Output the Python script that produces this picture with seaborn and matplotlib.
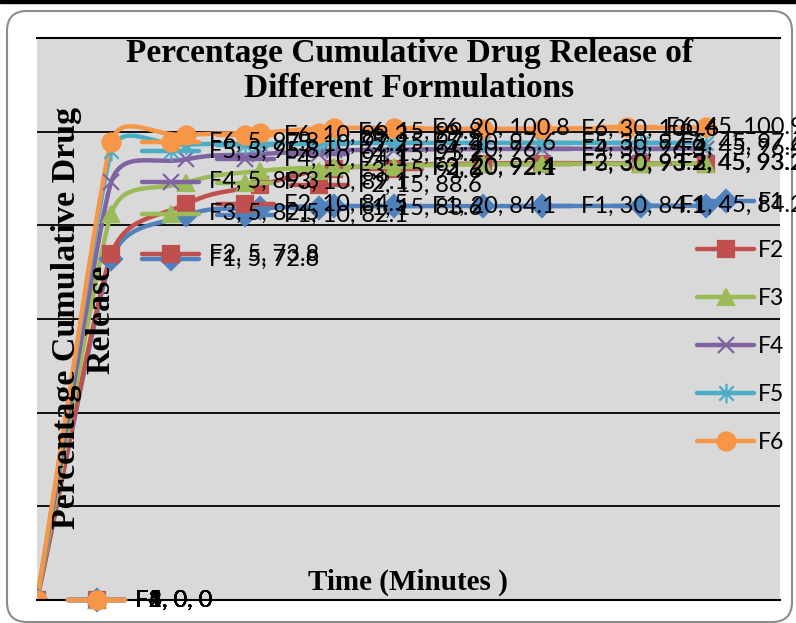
import numpy as np
import pandas as pd
import seaborn as sns
import matplotlib.pyplot as plt
from matplotlib.lines import Line2D
from matplotlib.patches import FancyBboxPatch, Rectangle
from matplotlib.path import Path
from matplotlib.transforms import IdentityTransform

# Release data (minutes vs % cumulative drug release)
time_min = [0, 5, 10, 15, 20, 30, 45]
formulations = ["F1", "F2", "F3", "F4", "F5", "F6"]
f1 = [0, 72.8, 82.1, 83.6, 84.1, 84.1, 84.2]
f2 = [0, 73.8, 84.5, 88.6, 92.1, 93.2, 93.2]
f3 = [0, 82.5, 89.1, 91.6, 92.4, 93.0, 93.2]
f4 = [0, 89.3, 94.1, 95.2, 96.0, 96.3, 96.4]
f5 = [0, 95.8, 97.2, 97.4, 97.6, 97.6, 97.6]
f6 = [0, 97.8, 99.3, 99.8, 100.8, 100.6, 100.9]
series = [f1, f2, f3, f4, f5, f6]

colors = ["#4F81BD", "#C0504D", "#9BBB59", "#8064A2", "#4BACC6", "#F79646"]
asterisk = Path([(-1, -1), (1, 1), (-1, 1), (1, -1), (0, -1.35), (0, 1.35)],
                [Path.MOVETO, Path.LINETO] * 3)
markers = ["D", "s", "^", "x", asterisk, "o"]
msizes = [11, 12, 12, 11, 14, 13]

sns.set_style("white")
plt.rcParams["font.family"] = ["Lato", "DejaVu Sans"]
plt.rcParams["text.color"] = "black"

W, H = 796, 623
fig = plt.figure(figsize=(W / 100, H / 100), dpi=100)
ax = fig.add_axes([37 / W, (H - 600) / H, (780 - 37) / W, (600 - 38) / H])
ax.set_facecolor("#D9D9D9")
ax.set_xlim(0, 50)
ax.set_ylim(0, 120)
ax.set_yticks(range(20, 101, 20))
ax.set_xticks([])
ax.yaxis.grid(True, color="black", lw=1.3)
ax.tick_params(length=0, labelleft=False, labelbottom=False)
ax.set_axisbelow(True)
for side in ["left", "right"]:
    ax.spines[side].set_visible(False)
for side in ["top", "bottom"]:
    ax.spines[side].set_color("black")
    ax.spines[side].set_linewidth(1.5)


# Excel-like smoothed curve, computed in pixel space
def smooth(xs, ys, n=40, k=0.45):
    pts = ax.transData.transform(np.column_stack([xs, ys]))
    m = len(pts)
    out = [pts[0]]
    for i in range(m - 1):
        p1, p2 = pts[i], pts[i + 1]
        p0 = pts[i - 1] if i > 0 else p1
        p3 = pts[i + 2] if i + 2 < m else p2
        d12 = np.hypot(*(p2 - p1))
        h1 = min(d12, np.hypot(*(p1 - p0))) * k if i > 0 else d12 / 3
        h2 = min(d12, np.hypot(*(p3 - p2))) * k if i + 2 < m else d12 / 3
        t1 = p2 - p0
        t2 = p3 - p1
        c1 = p1 + t1 / np.hypot(*t1) * h1
        c2 = p2 - t2 / np.hypot(*t2) * h2
        t = np.linspace(0, 1, n)[1:, None]
        seg = (1 - t) ** 3 * p1 + 3 * (1 - t) ** 2 * t * c1 + 3 * (1 - t) * t ** 2 * c2 + t ** 3 * p2
        out.extend(seg)
    return ax.transData.inverted().transform(np.array(out))


frames = []
for name, vals in zip(formulations, series):
    curve = smooth(time_min, vals)
    frames.append(pd.DataFrame({"x": curve[:, 0], "y": curve[:, 1], "Formulation": name}))
smooth_df = pd.concat(frames, ignore_index=True)

sns.lineplot(data=smooth_df, x="x", y="y", hue="Formulation", palette=colors,
             sort=False, estimator=None, linewidth=3.2, legend=False, ax=ax)
for vals, c, mk, ms in zip(series, colors, markers, msizes):
    ax.plot(time_min, vals, linestyle="none", marker=mk, markersize=ms, color=c,
            markeredgecolor=c, markeredgewidth=1.6)
ax.set_xlabel("")
ax.set_ylabel("")

# Legend
handles = [Line2D([], [], color=c, lw=3.2, marker=mk, markersize=ms, markeredgewidth=1.6)
           for c, mk, ms in zip(colors, markers, msizes)]
ax.legend(handles, formulations, loc="upper left", bbox_to_anchor=(697 / W, 1 - 192 / H),
          bbox_transform=fig.transFigure, frameon=False, fontsize=16.5, handlelength=2.5,
          handletextpad=0.15, labelspacing=1.18, borderpad=0, borderaxespad=0)

# Data labels with legend keys
ident = IdentityTransform()
renderer = fig.canvas.get_renderer()
lab_size = 17
for name, vals, c, mk, ms in zip(formulations, series, colors, markers, msizes):
    for t, v in zip(time_min, vals):
        px, py = ax.transData.transform((t, v))
        label = f"{name}, {t}, {v:g}"
        if t == time_min[-1]:
            txt = fig.text(px + 98, py, label, ha="right", va="center", fontsize=lab_size,
                           transform=ident, zorder=6)
            x_text = px + 98 - txt.get_window_extent(renderer).width
        else:
            x_text = px + 98
            fig.text(x_text, py, label, ha="left", va="center", fontsize=lab_size,
                     transform=ident, zorder=6)
        kl, kr = x_text - 67, x_text - 10
        fig.add_artist(Line2D([kl, kr], [py, py], color=c, lw=3.2, transform=ident, zorder=5))
        fig.add_artist(Line2D([(kl + kr) / 2], [py], color=c, marker=mk, markersize=ms,
                              markeredgewidth=1.6, transform=ident, zorder=5))

# Titles
tfont = dict(family=["Liberation Serif", "DejaVu Serif"], weight="bold", color="black")
fig.text(409 / W, 1 - 62 / H, "Percentage Cumulative Drug Release of", ha="center",
         va="baseline", fontsize=24, **tfont)
fig.text(409 / W, 1 - 97 / H, "Different Formulations", ha="center", va="baseline",
         fontsize=24, **tfont)
fig.text(75 / W, 1 - 318 / H, "Percentage Cumulative Drug", rotation=90, ha="center",
         va="baseline", fontsize=24.5, rotation_mode="anchor", **tfont)
fig.text(109 / W, 1 - 319 / H, "Release", rotation=90, ha="center", va="baseline",
         fontsize=24.5, rotation_mode="anchor", **tfont)
fig.text(408 / W, 1 - 590 / H, "Time (Minutes )", ha="center", va="baseline",
         fontsize=21, **tfont)

# Chart frame and page edge
fig.add_artist(FancyBboxPatch((7, 1), 785, 611, boxstyle="round,pad=0,rounding_size=20",
                              transform=ident, facecolor="none", edgecolor="#8C8C8C",
                              lw=1.5, zorder=-1))
fig.add_artist(Rectangle((0, H - 3), W, 3, transform=ident, color="black", zorder=10))

fig.savefig("out.png", dpi=100)
